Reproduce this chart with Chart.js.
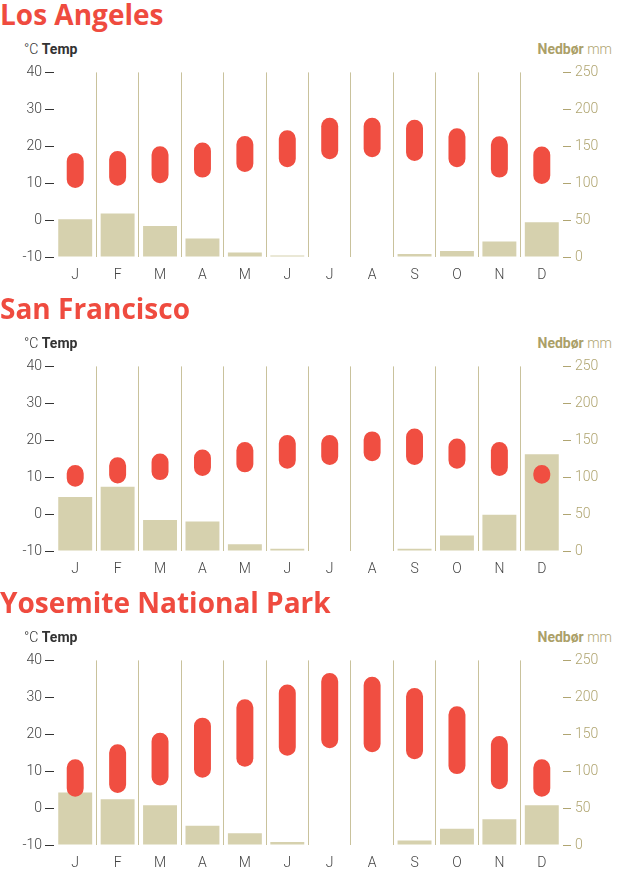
<!DOCTYPE html>
<html>
<head>
<meta charset="utf-8">
<script src="https://cdn.jsdelivr.net/npm/chart.js@4"></script>
<style>
  body { margin: 0; background: #fff; width: 617px; height: 870px; overflow: hidden; }
  .block { position: relative; width: 617px; height: 294px; }
  .block h2 { position: absolute; left: 0; top: 0; margin: 0; font: bold 28px/28px "Open Sans", sans-serif; color: #ef4b3f; white-space: nowrap; }
  .unitL { position: absolute; left: 24px; top: 42px; font: 300 14px/14px Roboto, sans-serif; color: #333; }
  .unitR { position: absolute; right: 5px; top: 42px; font: 300 14px/14px Roboto, sans-serif; color: #b0a571; }
  .unitL b, .unitR b { font-weight: bold; }
  .unitR b { color: #aba068; }
  canvas { position: absolute; left: 0; top: 60px; }
</style>
</head>
<body>
<div class="block">
  <h2>Los Angeles</h2>
  <div class="unitL">°C <b>Temp</b></div>
  <div class="unitR"><b>Nedbør</b> mm</div>
  <canvas id="la" width="617" height="230"></canvas>
</div>
<div class="block">
  <h2>San Francisco</h2>
  <div class="unitL">°C <b>Temp</b></div>
  <div class="unitR"><b>Nedbør</b> mm</div>
  <canvas id="sf" width="617" height="230"></canvas>
</div>
<div class="block">
  <h2>Yosemite National Park</h2>
  <div class="unitL">°C <b>Temp</b></div>
  <div class="unitR"><b>Nedbør</b> mm</div>
  <canvas id="yos" width="617" height="230"></canvas>
</div>
<script>
const months = ["J", "F", "M", "A", "M", "J", "J", "A", "S", "O", "N", "D"];

// Los Angeles
const laMin = [8.7, 9.3, 10, 11.5, 13, 14.3, 16.5, 17, 16, 14.3, 11.5, 9.8];
const laMax = [18.2, 18.7, 20, 21, 22.8, 24.3, 27.7, 27.7, 27.2, 24.9, 22.7, 19.9];
const laRain = [51, 59, 42, 25, 6, 2, 0, 0, 4, 8, 21, 47];

// San Francisco
const sfMin = [7.4, 8.3, 9.2, 10.3, 11.3, 12.3, 13.3, 14.3, 13.3, 12.3, 10.3, 8.2];
const sfMax = [13.3, 15.4, 16.4, 17.5, 19.5, 21.4, 21.4, 22.4, 23.2, 20.5, 19.5, 13.3];
const sfRain = [73, 87, 42, 40, 9, 3, 0, 0, 3, 21, 49, 131];

// Yosemite
const yosMin = [3.1, 4.1, 6.1, 8.2, 11.2, 14.2, 16.2, 15.1, 13.2, 9.2, 5.1, 3.1];
const yosMax = [13.2, 17.3, 20.4, 24.5, 29.5, 33.5, 36.6, 35.6, 32.5, 27.6, 19.5, 13.2];
const yosRain = [71, 62, 54, 26, 16, 4, 0, 0, 6, 22, 35, 54];

const tickFont = { family: "Roboto", size: 14, weight: 300 };

function makeChart(id, tMin, tMax, rain) {
  const ctx = document.getElementById(id).getContext("2d");
  return new Chart(ctx, {
    type: "bar",
    data: {
      labels: months,
      datasets: [
        {
          label: "Temp",
          data: tMin.map((v, i) => [v, tMax[i]]),
          yAxisID: "y",
          backgroundColor: "#f04e41",
          borderRadius: 20,
          borderSkipped: false,
          barPercentage: 0.4,
          categoryPercentage: 1,
          grouped: false,
          order: 0,
        },
        {
          label: "Nedbør",
          data: rain,
          yAxisID: "y2",
          backgroundColor: "#d6d1ae",
          barPercentage: 0.8,
          categoryPercentage: 1,
          grouped: false,
          order: 1,
        },
      ],
    },
    options: {
      responsive: false,
      animation: false,
      layout: { padding: { top: 12, left: 0, right: 0, bottom: 0 } },
      plugins: {
        legend: { display: false },
        tooltip: { enabled: false },
      },
      scales: {
        x: {
          grid: {
            offset: true,
            drawTicks: false,
            lineWidth: 1,
            // no line at the outer edges
            color: (c) => (c.index === 0 || c.index === undefined ? "rgba(0,0,0,0)" : "#c9c29c"),
          },
          border: { display: false },
          ticks: { color: "#444", font: tickFont, padding: 10 },
          afterFit: (s) => { s.height = 33; },
        },
        y: {
          position: "left",
          min: -10,
          max: 40,
          ticks: { stepSize: 10, color: "#444", font: tickFont, padding: 3 },
          grid: { drawOnChartArea: false, drawTicks: true, tickLength: 9, tickColor: "#333" },
          border: { display: false },
          afterFit: (s) => { s.width = 54; },
        },
        y2: {
          position: "right",
          min: 0,
          max: 250,
          ticks: { stepSize: 50, color: "#b0a571", font: tickFont, padding: 4 },
          grid: { drawOnChartArea: false, drawTicks: true, tickLength: 8, tickColor: "#b0a571" },
          border: { display: false },
          afterFit: (s) => { s.width = 54; },
        },
      },
    },
  });
}

makeChart("la", laMin, laMax, laRain);
makeChart("sf", sfMin, sfMax, sfRain);
makeChart("yos", yosMin, yosMax, yosRain);
</script>
</body>
</html>
